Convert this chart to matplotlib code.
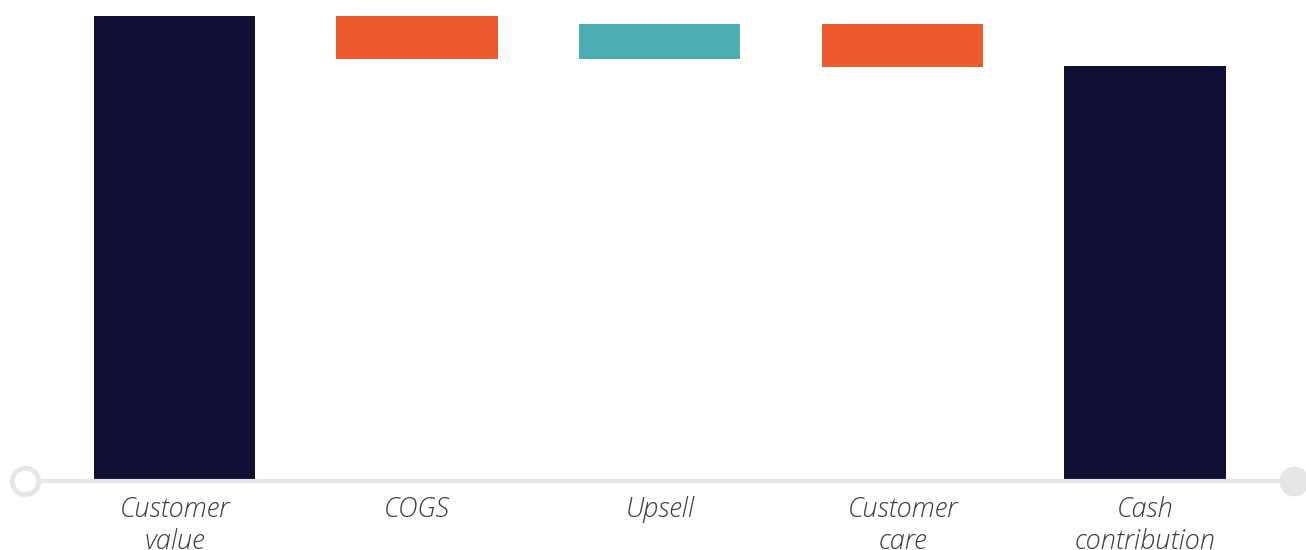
import matplotlib
matplotlib.use("Agg")
import matplotlib.pyplot as plt
import numpy as np

categories = ["Customer\nvalue", "COGS", "Upsell", "Customer\ncare", "Cash\ncontribution"]
values = [100.0, -9.3, 7.6, -9.3, 89.2]
kinds = ["total", "delta", "delta", "delta", "total"]

navy = "#0f0e35"
orange = "#ec5a2e"
teal = "#4badb1"
axis_grey = "#e6e6e6"

W, H = 1306, 550
fig = plt.figure(figsize=(W / 100, H / 100), dpi=100)
ax = fig.add_axes([0, 0, 1, 1])

px_per_unit = 4.625
base_px = 478.5
x0_px, step_px = 174.5, 242.65
ax.set_xlim(-x0_px / step_px, (W - x0_px) / step_px)
ax.set_ylim(-(H - base_px) / px_per_unit, base_px / px_per_unit)
ax.axis("off")

def py(p):
    return (base_px - p) / px_per_unit

def pxx(p):
    return (p - x0_px) / step_px

running = 0.0
bottoms, heights, colors = [], [], []
for v, k in zip(values, kinds):
    if k == "total":
        bottoms.append(0.0)
        heights.append(v)
        colors.append(navy)
        running = v
    else:
        if v < 0:
            bottoms.append(running + v)
            heights.append(-v)
            colors.append(orange)
        else:
            bottoms.append(running)
            heights.append(v)
            colors.append(teal)
        running += v

x = np.arange(len(categories))
ax.bar(x, heights, bottom=bottoms, width=0.665, color=colors, zorder=2)

# axis line with end circles
ly = py(480.5)
ax.plot([pxx(25), pxx(1294)], [ly, ly], color=axis_grey, lw=3.0, zorder=3, clip_on=False,
        solid_capstyle="butt")
ax.plot([pxx(25)], [ly], marker="o", ms=19, mfc="white", mec=axis_grey, mew=3.5, zorder=4, clip_on=False)
ax.plot([pxx(1294)], [ly], marker="o", ms=21.5, mfc=axis_grey, mec=axis_grey, mew=0, zorder=4, clip_on=False)

for xi, lab in zip(x, categories):
    ax.text(xi, py(496), lab, ha="center", va="top", fontsize=19.5,
            family=["Open Sans", "DejaVu Sans"], style="italic", fontweight=300,
            color="#3a3a3a", linespacing=1.23)

fig.savefig("out.png", dpi=100)
